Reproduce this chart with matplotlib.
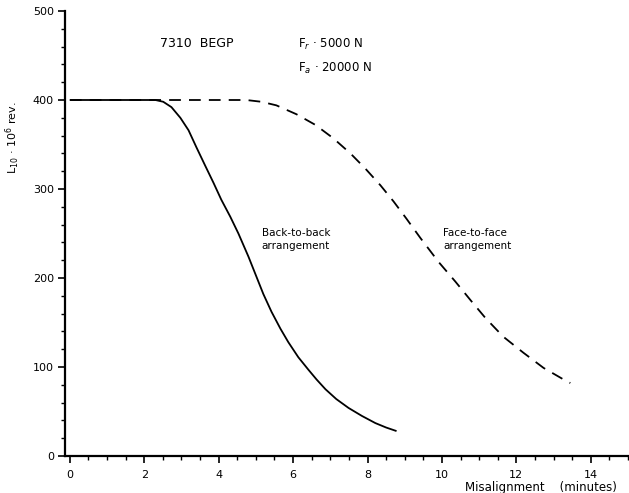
import matplotlib
matplotlib.use("Agg")
import matplotlib.pyplot as plt
from matplotlib.ticker import MultipleLocator

# Back-to-back arrangement (solid)
btb_x = [0.0, 1.0, 2.0, 2.30, 2.51, 2.73, 2.97, 3.19, 3.40, 3.64, 3.86, 4.07, 4.31, 4.53,
         4.80, 5.00, 5.20, 5.42, 5.66, 5.87, 6.14, 6.41, 6.63, 6.87, 7.16, 7.49, 7.85, 8.21, 8.50, 8.78]
btb_y = [400, 400, 400, 400, 398, 392, 380, 366, 347, 326, 307, 288, 269, 250,
         224, 203, 182, 162, 143, 128, 111, 97, 86, 75, 64, 54, 45, 37, 32, 28]

# Face-to-face arrangement (dashed)
ftf_x = [0.0, 2.0, 4.0, 4.74, 5.15, 5.55, 6.09, 6.60, 7.08, 7.54, 7.94, 8.35, 8.70, 9.04, 9.42,
         9.91, 10.36, 10.77, 11.17, 11.65, 12.19, 12.73, 13.35, 13.45]
ftf_y = [400, 400, 400, 400, 398, 394, 384, 372, 357, 340, 323, 304, 286, 267, 245,
         218, 196, 175, 155, 134, 116, 99, 84, 82]

x_ticks = [0, 2, 4, 6, 8, 10, 12, 14]
y_ticks = [0, 100, 200, 300, 400, 500]

fig = plt.figure(figsize=(6.29, 4.93), dpi=100)
ax = fig.add_axes([65/629, 37/493, 563/629, 445/493])

ax.plot(btb_x, btb_y, color="black", lw=1.3, solid_capstyle="butt", solid_joinstyle="round")
ax.plot(ftf_x, ftf_y, color="black", lw=1.3, dashes=(6.5, 4.5))

ax.set_xlim(-0.13, 15.0)
ax.set_ylim(0, 500)
ax.set_xticks(x_ticks)
ax.set_yticks(y_ticks)
ax.xaxis.set_minor_locator(MultipleLocator(0.5))
ax.yaxis.set_minor_locator(MultipleLocator(20))
ax.tick_params(axis="both", which="major", length=5, width=1.2, labelsize=8, direction="out")
ax.tick_params(axis="both", which="minor", length=3, width=1.0, direction="out")
ax.tick_params(axis="x", which="major", pad=5)
ax.tick_params(axis="y", which="major", pad=3)

for s in ["top", "right"]:
    ax.spines[s].set_visible(False)
for s in ["left", "bottom"]:
    ax.spines[s].set_linewidth(1.6)

ax.text(2.42, 464, "7310  BEGP", fontsize=9, va="center", ha="left")
ax.text(6.13, 462, r"F$_r$ · 5000 N", fontsize=8.5, va="center", ha="left")
ax.text(6.13, 435, r"F$_a$ · 20000 N", fontsize=8.5, va="center", ha="left")
ax.text(5.16, 243, "Back-to-back\narrangement", fontsize=7.5, va="center", ha="left", linespacing=1.4)
ax.text(10.03, 243, "Face-to-face\narrangement", fontsize=7.5, va="center", ha="left", linespacing=1.4)

fig.text(541/629, 1 - 487/493, "Misalignment    (minutes)", fontsize=8.5, ha="center", va="center")
fig.text(13/629, 1 - 138/493, r"L$_{10}$ · 10$^6$ rev.", fontsize=8, rotation=90, ha="center", va="center")

fig.savefig("out.png", dpi=100)
